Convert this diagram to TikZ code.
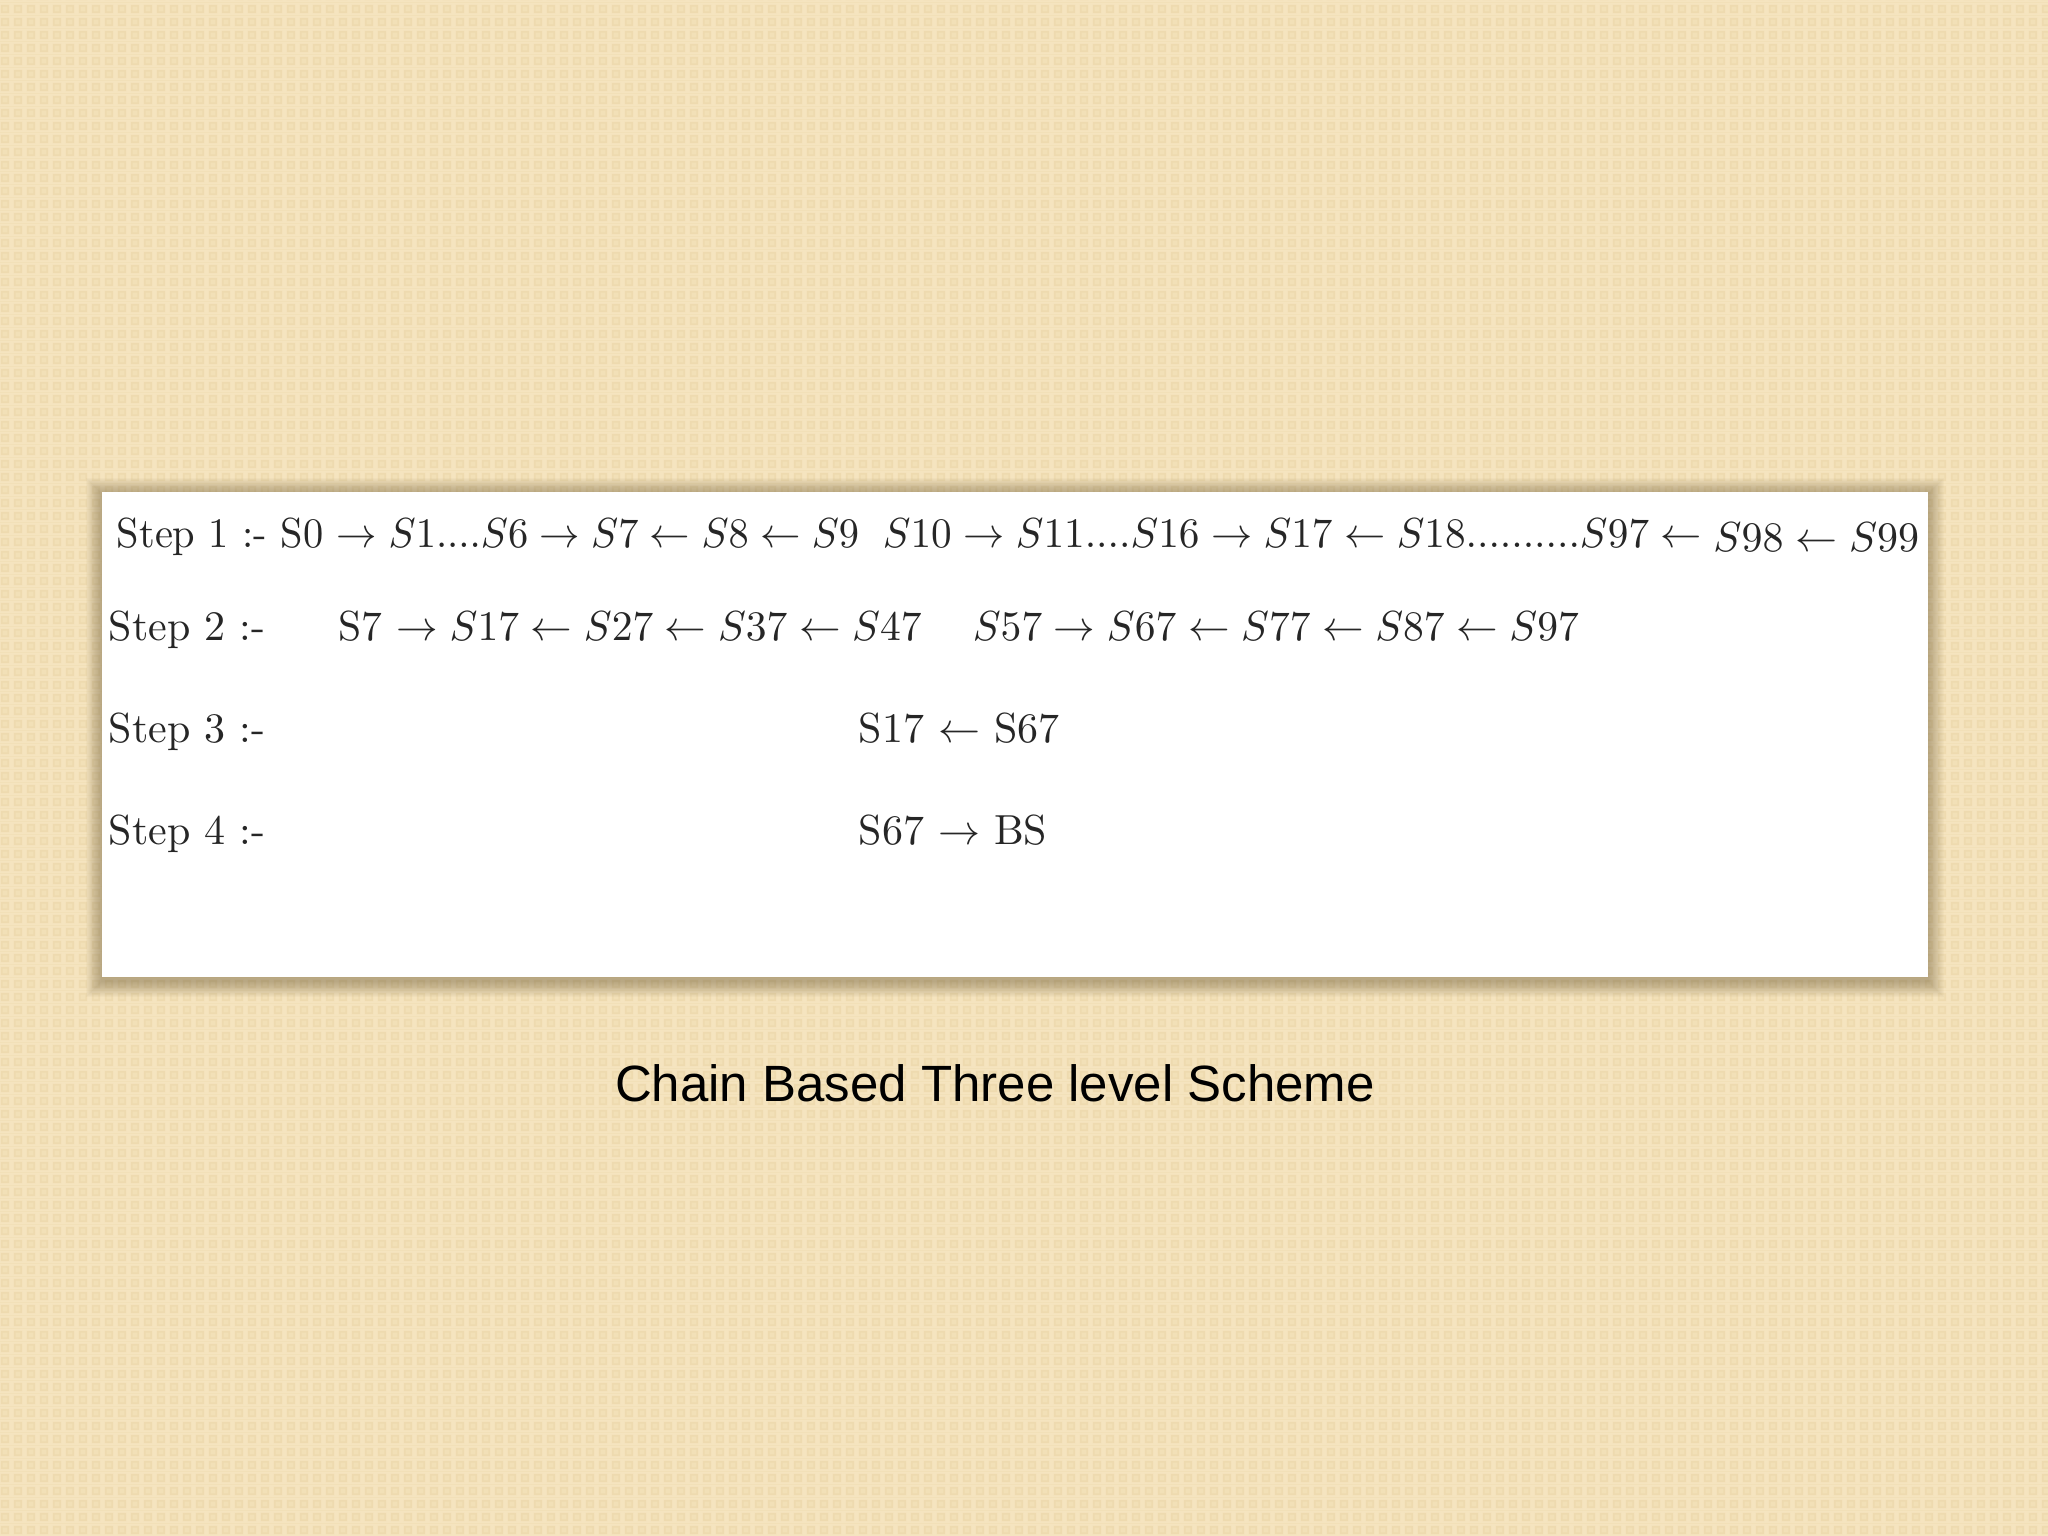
\documentclass[tikz,border=0pt]{standalone}
\usepackage{fontspec}
\newfontfamily\titlefont{Liberation Sans}
\usetikzlibrary{patterns}
\definecolor{bgA}{HTML}{F5E4BF}
\definecolor{bgB}{HTML}{EEDAAF}
\definecolor{bgC}{HTML}{F2E0B7}
\definecolor{shadowbrown}{HTML}{6E5C38}
\pgfdeclarepatterninherentlycolored{beigecheck}{\pgfpointorigin}{\pgfqpoint{13pt}{13pt}}{\pgfqpoint{13pt}{13pt}}{%
  \pgfsetfillcolor{bgA}\pgfpathrectangle{\pgfpointorigin}{\pgfqpoint{13pt}{13pt}}\pgfusepath{fill}%
  \pgfsetfillcolor{bgB}\pgfpathrectangle{\pgfqpoint{2pt}{2pt}}{\pgfqpoint{9pt}{9pt}}\pgfusepath{fill}%
  \pgfsetfillcolor{bgC}\pgfpathrectangle{\pgfqpoint{4pt}{4pt}}{\pgfqpoint{5pt}{5pt}}\pgfusepath{fill}%
}
\tikzset{
  steptext/.style={anchor=base west, inner sep=0pt, font=\fontsize{10}{12}\selectfont, scale=4.2, transform shape, text=black!85},
  titletext/.style={anchor=base, inner sep=0pt, font=\titlefont\fontsize{51}{60}\selectfont, text=black}
}
\begin{document}
\begin{tikzpicture}[x=1pt,y=-1pt]
\useasboundingbox (0,0) rectangle (2048,1536);
\fill[bgC] (0,0) rectangle (2048,1536);
\fill[pattern=beigecheck] (0,0) rectangle (2048,1536);
% shadow
\foreach \i in {1,...,16}{
  \fill[shadowbrown, opacity=0.03] (102-\i,492-\i+2) rectangle (1928+\i,977+\i+4);
}
\fill[white] (102,492) rectangle (1928,977);
% step 1
\node[steptext, xscale=0.963] (s1a) at (116,547) {Step 1 :- S0 $\rightarrow S1....S6 \rightarrow S7 \leftarrow S8 \leftarrow S9$};
\node[steptext, xscale=0.982] (s1b) at (882,547) {$S10 \rightarrow S11....S16 \rightarrow S17 \leftarrow S18..........S97 \leftarrow$};
\node[steptext, anchor=base east] (s1c) at (1920,551) {$S98 \leftarrow S99$};
% step 2
\node[steptext] (l2) at (108,640) {Step 2 :-};
\node[steptext, xscale=0.99] (s2a) at (338,640) {S7 $\rightarrow S17 \leftarrow S27 \leftarrow S37 \leftarrow S47$};
\node[steptext, xscale=0.99] (s2b) at (972,640) {$S57 \rightarrow S67 \leftarrow S77 \leftarrow S87 \leftarrow S97$};
% step 3
\node[steptext] (l3) at (108,742) {Step 3 :-};
\node[steptext] (s3) at (858,742) {S17 $\leftarrow$ S67};
% step 4
\node[steptext] (l4) at (108,844) {Step 4 :-};
\node[steptext] (s4) at (858,844) {S67 $\rightarrow$ BS};
% caption
\node[titletext] (title) at (995,1101) {Chain Based Three level Scheme};
\end{tikzpicture}
\end{document}
